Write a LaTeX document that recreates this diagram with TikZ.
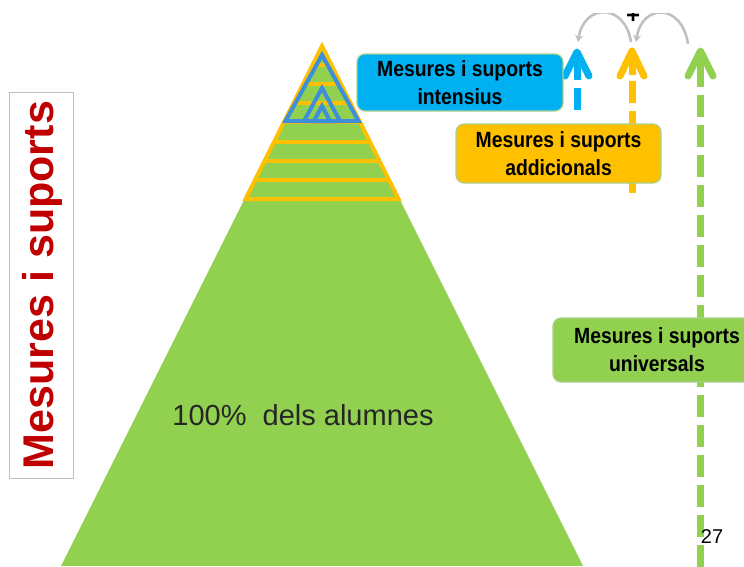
\documentclass[tikz,border=0pt]{standalone}
\usepackage{fontspec}
\setmainfont{Liberation Sans}
\newfontfamily\boxfont[FakeStretch=0.88]{Liberation Sans}
\usetikzlibrary{arrows.meta}
\definecolor{pgreen}{HTML}{92D050}
\definecolor{pyellow}{HTML}{FFC000}
\definecolor{pblue}{HTML}{00B0F0}
\definecolor{tblue}{HTML}{3D8FDB}
\definecolor{tred}{HTML}{C00000}
\definecolor{bordergreen}{HTML}{A9D18E}
\definecolor{arcgray}{HTML}{BFBFBF}
\definecolor{textdark}{HTML}{262626}
\tikzset{
  labelbox/.style={rounded corners=8pt, draw=bordergreen, line width=1.2pt,
    align=center, inner sep=0pt, text=black,
    font=\boxfont\bfseries\fontsize{22}{28}\selectfont},
  chevron/.style={line width=7pt, line cap=round, line join=round},
  solidshaft/.style={line width=7pt},
  dashshaft/.style={line width=7pt, dash pattern=on 22pt off 8pt},
  stripe/.style={pyellow, line width=4pt},
  bluetri/.style={tblue, line width=4pt, line join=miter},
  arcarrow/.style={arcgray, line width=2.5pt, -{Stealth[length=7pt,width=8pt]}},
}
\begin{document}
\begin{tikzpicture}[x=1pt,y=-1pt]
\useasboundingbox (0,0) rectangle (744,566);
\clip (0,13) rectangle (744,566);
% pyramid
\fill[pgreen] (322,44) -- (61,566) -- (583,566) -- cycle;
\begin{scope}
  \clip (322,46) -- (245.5,199) -- (398.5,199) -- cycle;
  \foreach \yy in {65,84,103,122,142,161,180} {
    \draw[stripe] (230,\yy) -- (420,\yy);
  }
\end{scope}
\draw[pyellow, line width=4pt, line join=miter] (322,46) -- (245.5,199) -- (398.5,199) -- cycle;
\draw[bluetri] (322,55) -- (285.5,121) -- (358.5,121) -- cycle;
\draw[bluetri] (322,88) -- (304,121) -- (340,121) -- cycle;
\draw[bluetri] (322,106) -- (314,121) -- (330,121) -- cycle;
% title
\node[draw=arcgray, line width=1pt, minimum width=64pt, minimum height=386pt, inner sep=0pt] (titlebox) at (41,285) {};
\node[rotate=90, text=tred, font=\bfseries\fontsize{43}{43}\selectfont, inner sep=0pt] (title) at (42,285) {Mesures i suports};
\node[anchor=base, text=textdark, font=\fontsize{29}{29}\selectfont, inner sep=0pt] (all) at (303,425) {100\%\ \ dels\ alumnes};
% arrows
\coordinate (bt) at (577,52);  \coordinate (bs) at (577,80);
\coordinate (bd) at (577,88);  \coordinate (bb) at (577,112);
\coordinate (yt) at (632,51);  \coordinate (ys) at (632,75);
\coordinate (yd) at (632,81);  \coordinate (yb) at (632,193);
\coordinate (gt) at (700.5,51); \coordinate (gs) at (700.5,87);
\coordinate (gd) at (700.5,95); \coordinate (gb) at (700.5,570);
\draw[pblue, solidshaft] (bt) -- (bs);
\draw[pblue, dashshaft] (bd) -- (bb);
\draw[pblue, chevron] (565,76) -- (bt) -- (589,76);
\draw[pyellow, solidshaft] (yt) -- (ys);
\draw[pyellow, dashshaft] (yd) -- (yb);
\draw[pyellow, chevron] (620,76) -- (yt) -- (644,76);
\draw[pgreen, solidshaft] (gt) -- (gs);
\draw[pgreen, dashshaft] (gd) -- (gb);
\draw[pgreen, chevron] (688,76) -- (gt) -- (713,76);
% curved arrows
\coordinate (a1) at (688,44); \coordinate (a2) at (636,42);
\coordinate (a3) at (631,42); \coordinate (a4) at (578,42);
\draw[arcarrow] (a1) .. controls (682,3) and (642,3) .. (a2);
\draw[arcarrow] (a3) .. controls (625,3) and (584,3) .. (a4);
\node[anchor=base, font=\bfseries\fontsize{24}{24}\selectfont, inner sep=0pt] (plus) at (633,23.5) {+};
% boxes
\node[labelbox, fill=pblue, minimum width=206pt, minimum height=57pt] (intens) at (460,82.5) {Mesures i suports\\intensius};
\node[labelbox, fill=pyellow, minimum width=205pt, minimum height=59pt] (addic) at (558.5,153.5) {Mesures i suports\\addicionals};
\node[labelbox, fill=pgreen, minimum width=208pt, minimum height=64pt] (univ) at (657,350) {Mesures i suports\\universals};
\node[anchor=base, font=\fontsize{20}{20}\selectfont, inner sep=0pt] (page) at (712,543) {27};
\end{tikzpicture}
\end{document}
